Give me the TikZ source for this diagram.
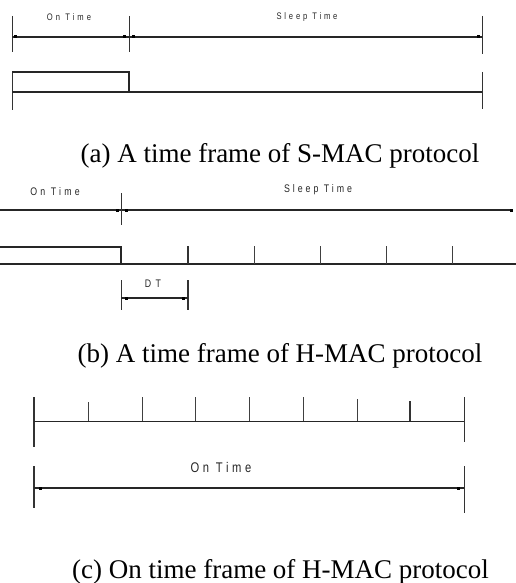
\documentclass[tikz,border=0pt]{standalone}
\usepackage{fontspec}
\setmainfont{Liberation Serif}
\newfontfamily\lblfont[FakeStretch=0.8]{Liberation Sans}
\usetikzlibrary{arrows.meta}

\tikzset{
  axis/.style={line width=1.1pt, black!85},
  edge/.style={line width=0.9pt, black!80},
  tick/.style={line width=0.8pt, black!75},
  sq/.style={fill=black, inner sep=0pt, minimum size=3pt},
  captxt/.style={font=\fontsize{27}{30}\selectfont, inner sep=0pt, anchor=base},
  lbl/.style={inner sep=0pt, text=black!85, anchor=base}
}

\begin{document}
\begin{tikzpicture}[x=1pt,y=-1pt]
\useasboundingbox (0,0) rectangle (516,583);

% ---------- (a) S-MAC frame ----------
\coordinate (a1t) at (12,16);  \coordinate (a1b) at (12,52);
\coordinate (a2t) at (129,16); \coordinate (a2b) at (129,52);
\coordinate (a3t) at (482,16); \coordinate (a3b) at (482,54);
\draw[edge] (a1t) -- (a1b);
\draw[edge] (a2t) -- (a2b);
\draw[edge] (a3t) -- (a3b);
\coordinate (aL) at (12,37); \coordinate (aM) at (129,37); \coordinate (aR) at (482,37);
\draw[axis] (aL) -- (aM) -- (aR);
\node[sq] at (15,37) {}; \node[sq] at (124,37) {};
\node[sq] at (133,37) {}; \node[sq] at (478,37) {};
\node[lbl, font=\lblfont\fontsize{9.5}{10}\selectfont\addfontfeatures{LetterSpace=32}] (aon) at (69,20.5) {On Time};
\node[lbl, font=\lblfont\fontsize{9.5}{10}\selectfont\addfontfeatures{LetterSpace=30}] (asl) at (307,19.5) {Sleep Time};

\coordinate (ab1) at (12,72);  \coordinate (ab2) at (12,110);
\coordinate (ar1) at (129,72); \coordinate (ar2) at (129,92);
\coordinate (ae1) at (482,72); \coordinate (ae2) at (482,109);
\draw[edge] (ab1) -- (ab2);
\draw[edge] (ae1) -- (ae2);
\draw[axis] (ab1) -- (ar1) -- (ar2);
\draw[axis] (12,92) -- (482,92);

\node[captxt] (capa) at (280,162) {(a)\ A time frame of S-MAC protocol};

% ---------- (b) H-MAC frame ----------
\coordinate (bL) at (0,210); \coordinate (bM) at (121,210); \coordinate (bR) at (513,210);
\draw[axis] (bL) -- (bM) -- (bR);
\draw[edge] (121,193) -- (121,225);
\node[sq] at (117,210) {}; \node[sq] at (126,210) {}; \node[sq] at (511,210) {};
\node[lbl, font=\lblfont\fontsize{11}{12}\selectfont\addfontfeatures{LetterSpace=29}] (bon) at (55,195) {On Time};
\node[lbl, font=\lblfont\fontsize{11}{12}\selectfont\addfontfeatures{LetterSpace=27}] (bsl) at (318,192) {Sleep Time};

\coordinate (br0) at (0,247); \coordinate (br1) at (121,247); \coordinate (br2) at (121,264);
\draw[axis] (br0) -- (br1) -- (br2);
\draw[axis] (0,264) -- (516,264);
\draw[edge, line width=1.2pt] (188,246) -- (188,264);
\foreach \x in {254,320,386,452} \draw[tick] (\x,246) -- (\x,264);

% DT dimension
\coordinate (dL) at (121,298); \coordinate (dR) at (188,298);
\draw[edge] (121,280) -- (121,310);
\draw[edge, line width=1.2pt] (188,280) -- (188,310);
\draw[axis] (dL) -- (dR);
\node[sq] at (126,298) {}; \node[sq] at (183,298) {};
\node[lbl, font=\lblfont\fontsize{11}{12}\selectfont\addfontfeatures{LetterSpace=40}] (dt) at (153,287) {DT};

\node[captxt] (capb) at (280,362) {(b)\ A time frame of H-MAC protocol};

% ---------- (c) on-time frame of H-MAC ----------
\draw[edge, line width=1.2pt] (34,397) -- (34,447);
\draw[edge] (464,397) -- (464,442);
\draw[axis, line width=0.9pt] (34,421) -- (464,421);
\draw[tick] (88,402) -- (88,421);
\foreach \x in {142,195,249,303} \draw[tick] (\x,397) -- (\x,421);
\draw[tick] (357,399) -- (357,421);
\draw[edge, line width=1.1pt] (410,401) -- (410,421);

\coordinate (cL) at (34,488); \coordinate (cR) at (464,488);
\draw[edge, line width=1.2pt] (34,466) -- (34,508);
\draw[edge] (464,466) -- (464,513);
\draw[axis] (cL) -- (cR);
\node[sq] at (40,488) {}; \node[sq] at (458,488) {};
\node[lbl, font=\lblfont\fontsize{14}{15}\selectfont\addfontfeatures{LetterSpace=26}] (con) at (221,472) {On Time};

\node[captxt] (capc) at (280.5,578) {(c)\ On time frame of H-MAC protocol};
\end{tikzpicture}
\end{document}
